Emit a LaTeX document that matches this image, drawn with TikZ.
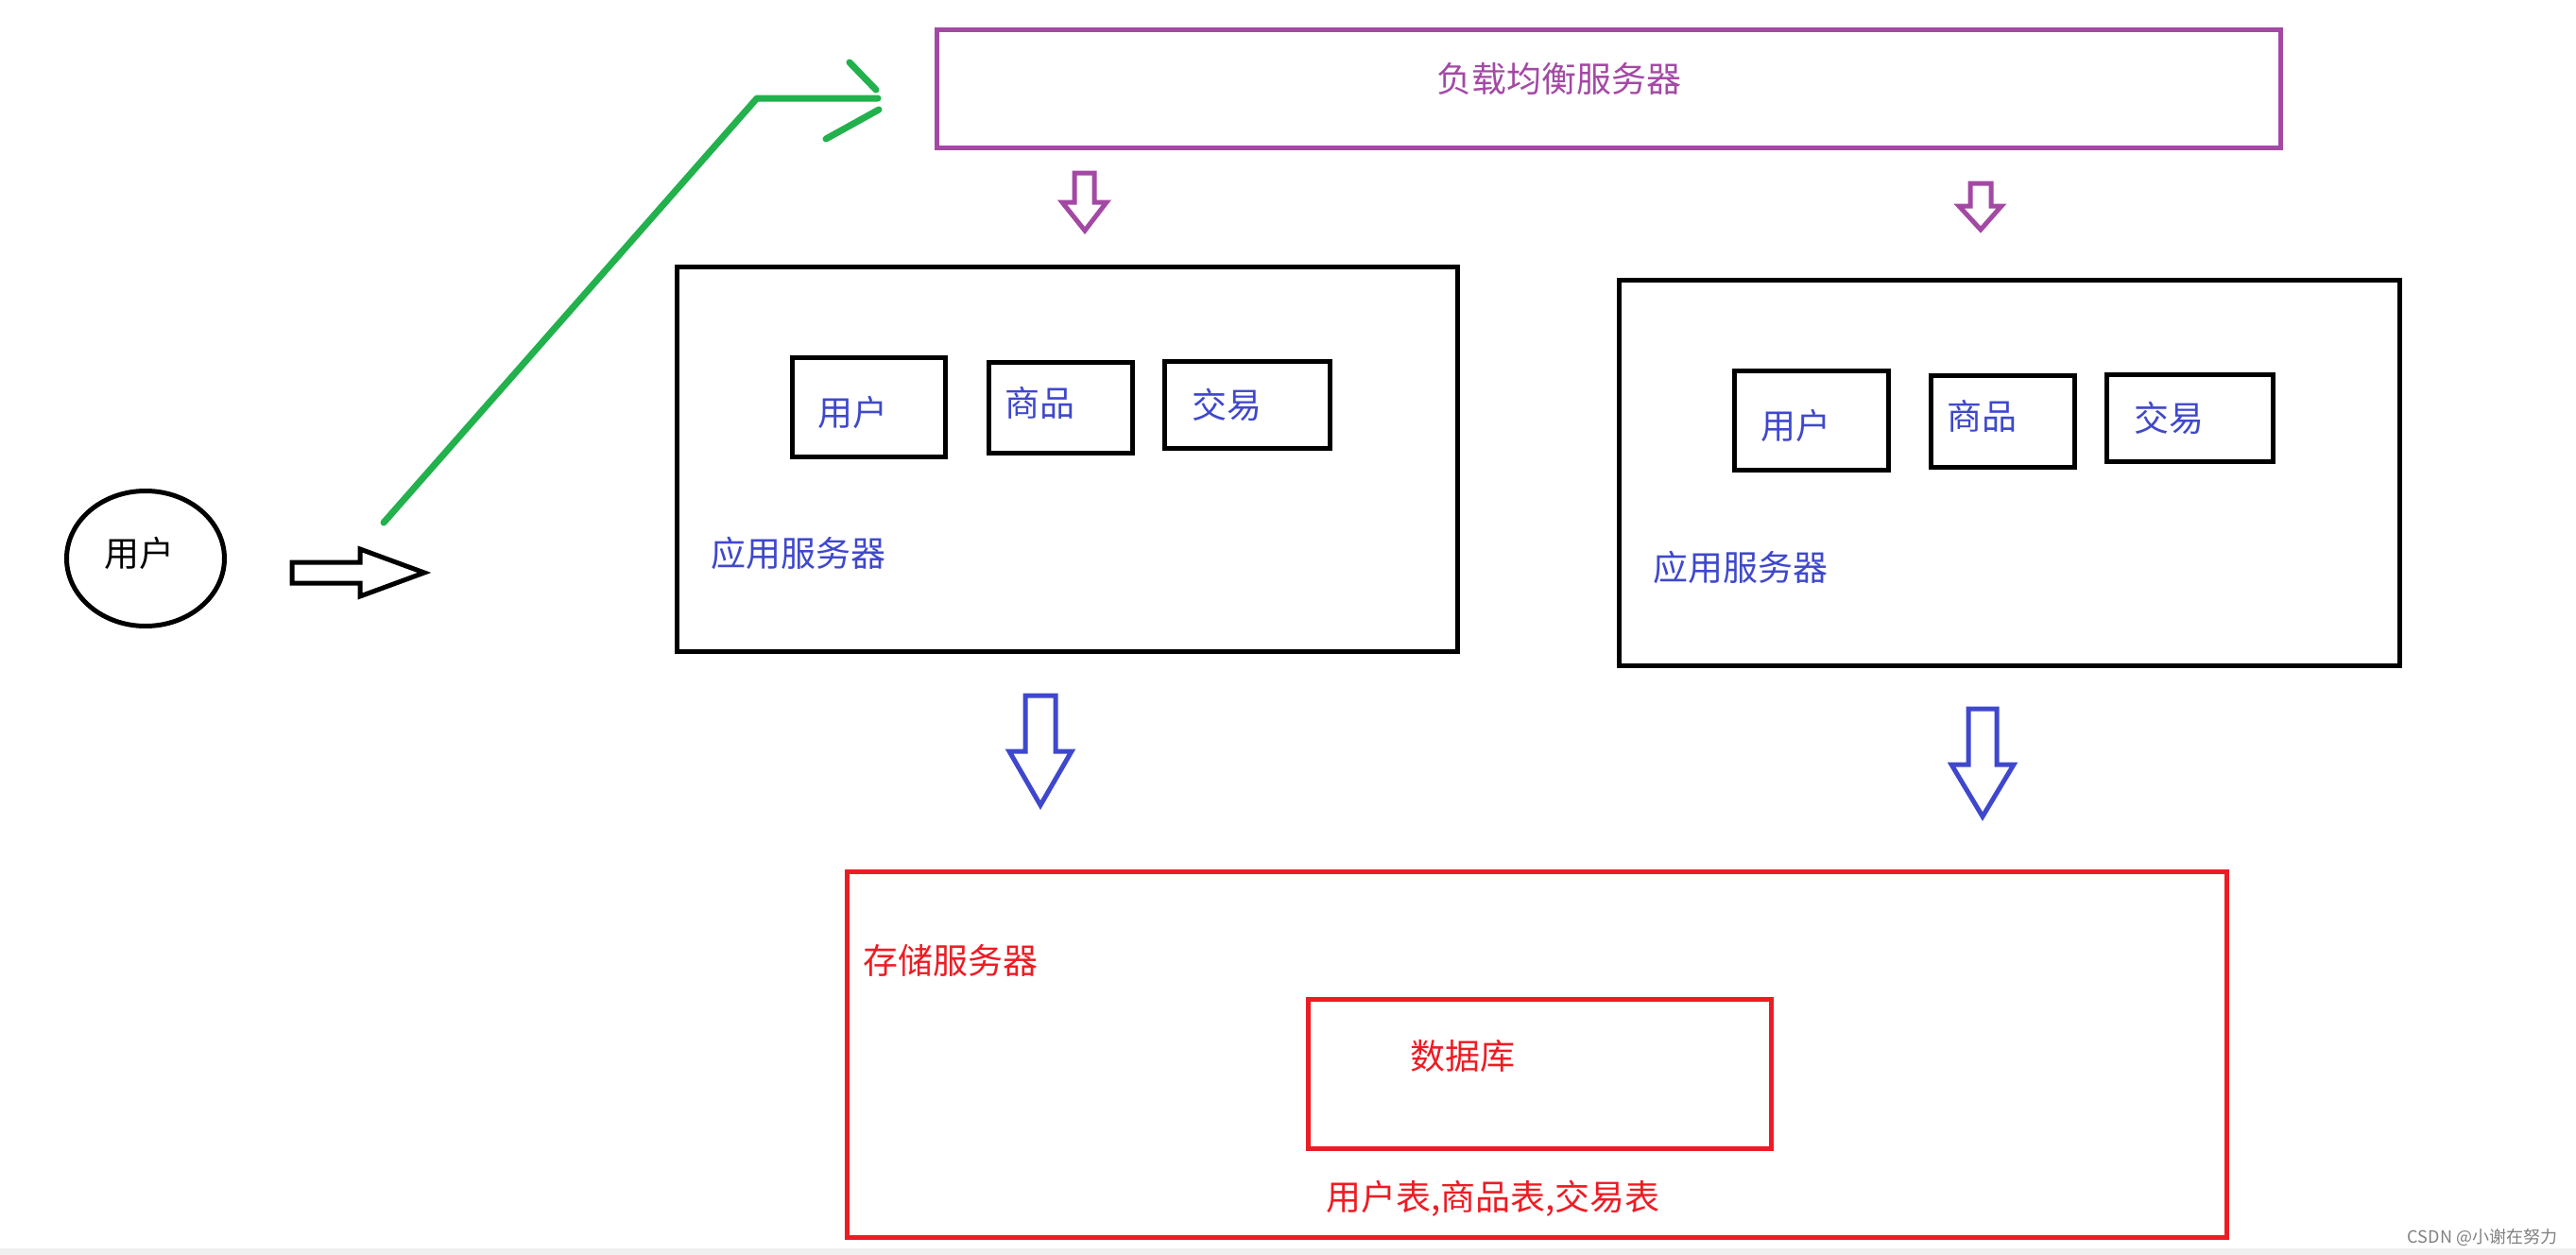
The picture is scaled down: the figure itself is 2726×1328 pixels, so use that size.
\documentclass[tikz,border=0pt]{standalone}
\usepackage{fontspec}
\setmainfont{Noto Sans CJK SC}
\usetikzlibrary{shapes.geometric}
\definecolor{ppurple}{HTML}{A349A4}
\definecolor{pblue}{HTML}{3F48CC}
\definecolor{pred}{HTML}{ED1C24}
\definecolor{pgreen}{HTML}{22B14C}
\definecolor{strip}{HTML}{EFEFEF}
\tikzset{
  frame/.style={draw, line width=5pt, inner sep=0pt, rectangle},
  blk/.style={frame, draw=black},
  lbl/.style={inner sep=0pt, font=\fontsize{37}{40}\selectfont},
  hollow/.style={line width=5pt, line join=miter},
}
\begin{document}
\begin{tikzpicture}[x=1pt,y=-1pt]
\useasboundingbox (0,0) rectangle (2726,1328);
\fill[strip] (0,1321) rectangle (2726,1328);

% user ellipse
\node[draw, ellipse, line width=5pt, minimum width=167pt, minimum height=143pt, inner sep=0pt] (user) at (154,591) {};
\node[lbl] (usertxt) at (147,585) {用户};

% black hollow arrow
\draw[hollow] (309,595) -- (381,595) -- (381,581) -- (449,606) -- (381,631) -- (381,617) -- (309,617) -- cycle;

% green arrow
\coordinate (gs) at (406,553);
\coordinate (gc) at (801,104);
\coordinate (ge) at (929,104);
\draw[pgreen, line width=7pt, line cap=round, line join=round] (gs) -- (gc) -- (ge);
\draw[pgreen, line width=7pt, line cap=round] (899,66) -- (927,95);
\draw[pgreen, line width=7pt, line cap=round] (874,147) -- (930,116);

% load balancer
\node[frame, draw=ppurple, minimum width=1422pt, minimum height=125pt] (lb) at (1702.5,94) {};
\node[lbl, text=ppurple] (lbtxt) at (1650,83) {负载均衡服务器};

% purple arrows
\draw[ppurple, hollow] (1137,183) -- (1158,183) -- (1158,214) -- (1171,214) -- (1148,244) -- (1124,214) -- (1137,214) -- cycle;
\draw[ppurple, hollow] (2085,194) -- (2107,194) -- (2107,218) -- (2118,218) -- (2096,243) -- (2073,218) -- (2085,218) -- cycle;

% left application server
\node[blk, minimum width=826pt, minimum height=407pt] (app1) at (1129.5,486) {};
\node[blk, minimum width=162pt, minimum height=105pt] (u1) at (919.5,431) {};
\node[blk, minimum width=152pt, minimum height=96pt] (g1) at (1122.5,431.5) {};
\node[blk, minimum width=175pt, minimum height=92pt] (t1) at (1320,428.5) {};
\node[lbl, text=pblue] (u1t) at (902,436) {用户};
\node[lbl, text=pblue] (g1t) at (1100,426) {商品};
\node[lbl, text=pblue] (t1t) at (1298,428) {交易};
\node[lbl, text=pblue, anchor=west] (app1t) at (752,585) {应用服务器};

% right application server
\node[blk, minimum width=826pt, minimum height=408pt] (app2) at (2126.5,500.5) {};
\node[blk, minimum width=163pt, minimum height=105pt] (u2) at (1917,445) {};
\node[blk, minimum width=152pt, minimum height=97pt] (g2) at (2119.5,446) {};
\node[blk, minimum width=176pt, minimum height=92pt] (t2) at (2317.5,442.5) {};
\node[lbl, text=pblue] (u2t) at (1900,450) {用户};
\node[lbl, text=pblue] (g2t) at (2097,440) {商品};
\node[lbl, text=pblue] (t2t) at (2295,442) {交易};
\node[lbl, text=pblue, anchor=west] (app2t) at (1749,600) {应用服务器};

% blue arrows
\draw[pblue, hollow] (1085,736) -- (1117,736) -- (1117,795) -- (1134,795) -- (1101,852) -- (1068,795) -- (1085,795) -- cycle;
\draw[pblue, hollow] (2083,750) -- (2113,750) -- (2113,809) -- (2131,809) -- (2098,864) -- (2065,809) -- (2083,809) -- cycle;

% storage server
\node[frame, draw=pred, minimum width=1460pt, minimum height=387pt] (store) at (1626.5,1116) {};
\node[lbl, text=pred, anchor=west] (storet) at (913,1016) {存储服务器};
\node[frame, draw=pred, minimum width=490pt, minimum height=158pt] (db) at (1629.5,1136.5) {};
\node[lbl, text=pred] (dbt) at (1548,1118) {数据库};
\node[lbl, text=pred] (tables) at (1580,1268) {用户表,商品表,交易表};

% watermark
\node[inner sep=0pt, text=gray, font=\fontsize{18}{20}\selectfont] (wm) at (2627,1309) {CSDN @小谢在努力};
\end{tikzpicture}
\end{document}
